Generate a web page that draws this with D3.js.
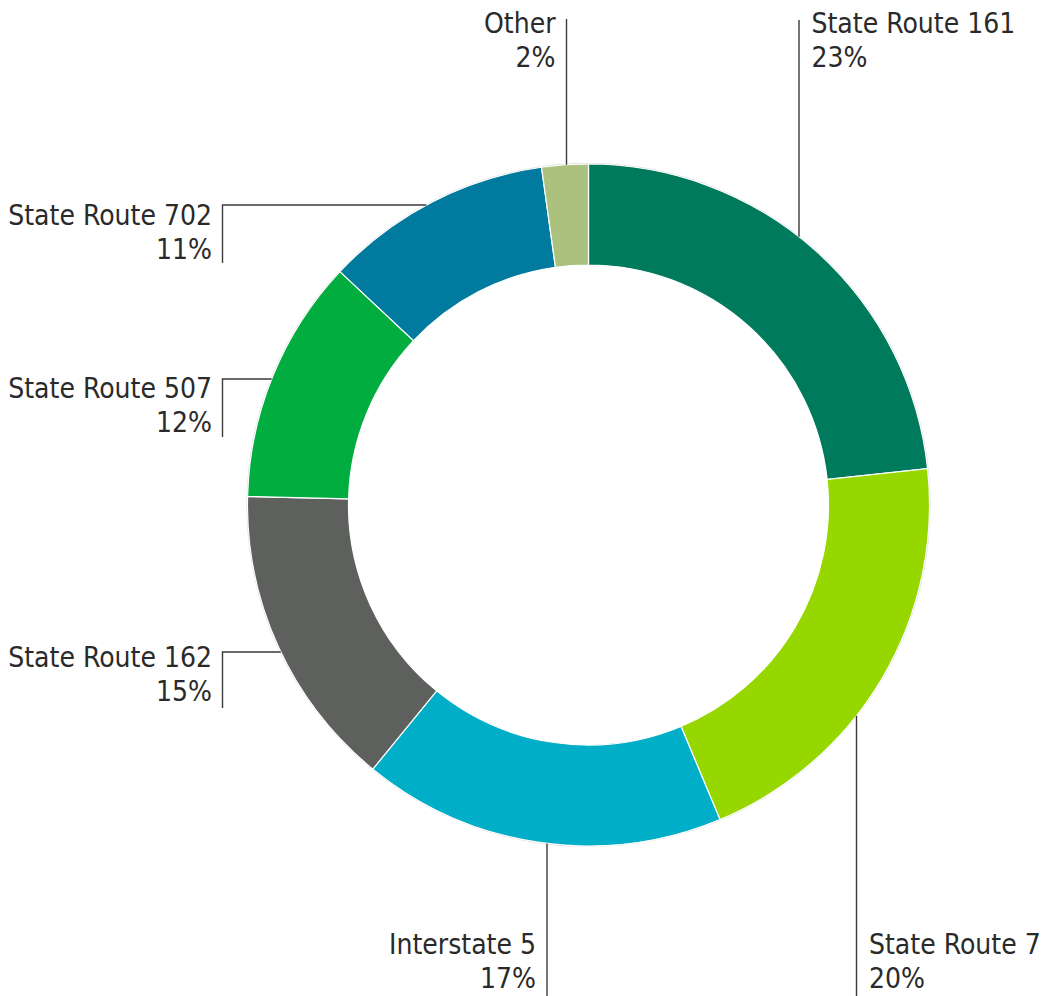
<!DOCTYPE html>
<html>
<head>
<meta charset="UTF-8">
<script src="https://cdn.jsdelivr.net/npm/d3@7"></script>
<style>
body{
  margin:0;
  background-color:#fff;
}
text{
  font-family:"DejaVu Sans Condensed","DejaVu Sans",sans-serif;
  font-stretch:condensed;
}
</style>
</head>
<body>
<script>
// route shares, clockwise from 12 o'clock
var routes = ["State Route 161","State Route 7","Interstate 5","State Route 162","State Route 507","State Route 702","Other"]
var shares = [23.3, 20.4, 17.2, 14.5, 11.6, 10.8, 2.2]
var shareLabels = ["23%","20%","17%","15%","12%","11%","2%"]
var colors = ["#007a5c","#97d700","#00aec7","#5e605d","#00ad3e","#007a9e","#abc27f"]

var width = 1048
var height = 996

var cx = 588.5, cy = 505
var outerR = 341, innerR = 240

// label placement: "v" = vertical leader, "h" = elbow leader
// lx = leader x, ty = first baseline, side = which side of the leader the text sits
var layout = [
  {kind:"v", lx:799, top:20,  ty:33,  side:"right"},
  {kind:"v", lx:856.5, top:996, ty:954, side:"right"},
  {kind:"v", lx:547, top:996, ty:954, side:"left"},
  {kind:"h", lx:222.5, ly:652, bottom:708, ty:667},
  {kind:"h", lx:222.5, ly:379, bottom:437, ty:398},
  {kind:"h", lx:222.5, ly:205, bottom:263, ty:225},
  {kind:"v", lx:566.5, top:19,  ty:33,  side:"left"}
]

var color = d3.scaleOrdinal().domain(routes).range(colors)

var svg = d3.select("body")
  .append("svg")
  .attr("width", width)
  .attr("height", height)

var pie = d3.pie().sort(null).value(d => d.value)
var arc = d3.arc().innerRadius(innerR).outerRadius(outerR)

var data = routes.map((r, i) => ({route:r, value:shares[i], label:shareLabels[i], pos:layout[i]}))

var g = svg.append("g")
  .attr("transform", "translate(" + cx + "," + cy + ")")

// faint outer rim
g.append("circle")
  .attr("r", outerR + 0.5)
  .attr("fill", "none")
  .attr("stroke", "#d6d6d6")
  .attr("stroke-width", 1)

g.selectAll("path")
  .data(pie(data))
  .enter().append("path")
  .attr("d", arc)
  .attr("fill", d => color(d.data.route))
  .attr("stroke", "#fff")
  .attr("stroke-width", 1.2)

// leader lines
var lines = svg.append("g")
  .attr("stroke", "#3a3a3a")
  .attr("stroke-width", 1.4)
  .attr("fill", "none")

data.forEach(function(d){
  var p = d.pos
  if (p.kind == "v"){
    var dx = p.lx - cx
    var dy = Math.sqrt(outerR*outerR - dx*dx)
    var yEnd = p.top < cy ? cy - dy : cy + dy
    lines.append("line")
      .attr("x1", p.lx).attr("y1", p.top)
      .attr("x2", p.lx).attr("y2", yEnd)
  } else {
    var dy2 = p.ly - cy
    var xEnd = cx - Math.sqrt(outerR*outerR - dy2*dy2)
    lines.append("path")
      .attr("d", "M" + p.lx + "," + p.bottom + "V" + p.ly + "H" + xEnd)
  }
})

// labels
var labels = svg.append("g")
  .attr("font-size", 28)
  .attr("fill", "#2a2a2a")

data.forEach(function(d){
  var p = d.pos
  var tx, anchor
  if (p.kind == "h"){
    tx = p.lx - 10.5
    anchor = "end"
  } else if (p.side == "right"){
    tx = p.lx + 12.5
    anchor = "start"
  } else {
    tx = p.lx - 11
    anchor = "end"
  }
  labels.append("text")
    .attr("x", tx).attr("y", p.ty)
    .attr("text-anchor", anchor)
    .text(d.route)
  labels.append("text")
    .attr("x", tx).attr("y", p.ty + 34)
    .attr("text-anchor", anchor)
    .text(d.label)
})
</script>
</body>
</html>
